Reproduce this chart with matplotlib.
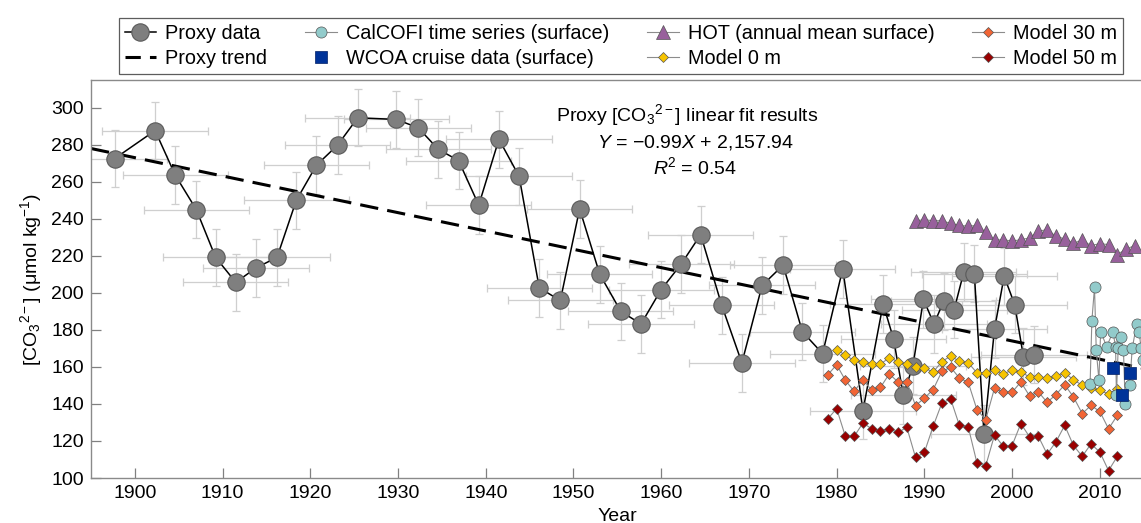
import matplotlib
matplotlib.use('Agg')
import matplotlib.pyplot as plt
from matplotlib.lines import Line2D

plt.rcParams['font.family'] = ['Liberation Sans', 'DejaVu Sans']
plt.rcParams['mathtext.fontset'] = 'custom'
plt.rcParams['mathtext.rm'] = 'Liberation Sans'
plt.rcParams['mathtext.it'] = 'Liberation Sans:italic'
plt.rcParams['font.size'] = 14

# Proxy reconstruction
proxy_year = [1897.7, 1902.3, 1904.6, 1907.0, 1909.2, 1911.5, 1913.8, 1916.2, 1918.4, 1920.7,
              1923.1, 1925.4, 1929.8, 1932.3, 1934.6, 1936.9, 1939.2, 1941.5, 1943.8, 1946.1,
              1948.5, 1950.7, 1953.0, 1955.4, 1957.7, 1960.0, 1962.3, 1964.5, 1966.9, 1969.2,
              1971.5, 1973.9, 1976.1, 1978.4, 1980.7, 1983.0, 1985.3, 1986.5, 1987.6, 1988.7,
              1989.9, 1991.1, 1992.2, 1993.4, 1994.5, 1995.7, 1996.8, 1998.0, 1999.1, 2000.3,
              2001.3, 2002.5]
proxy_val = [272.6, 287.7, 263.6, 245.0, 219.2, 205.7, 213.5, 219.2, 250.0, 269.0,
             279.8, 294.6, 293.7, 289.2, 277.5, 271.5, 247.4, 283.0, 263.0, 202.7,
             195.9, 245.4, 210.0, 190.0, 183.2, 201.8, 215.7, 231.5, 193.3, 162.2,
             204.0, 215.0, 179.0, 167.2, 213.0, 136.4, 194.0, 175.0, 144.6, 160.7,
             196.5, 183.2, 195.5, 191.0, 211.3, 210.4, 123.8, 180.5, 209.0, 193.7,
             165.5, 166.6]
proxy_xerr = 6.0
proxy_yerr = 15.5

# Trend line end points
trend_year = [1895, 2015]
trend_val = [278.0, 159.2]

# HOT annual mean surface
hot_year = list(range(1989, 2015))
hot_val = [239.0, 239.5, 239.0, 239.0, 237.5, 236.5, 236.0, 236.5, 232.8, 228.4,
           228.8, 227.9, 228.8, 229.7, 233.3, 234.2, 230.6, 229.2, 227.0, 228.4,
           225.6, 226.6, 226.1, 220.7, 223.7, 225.6]

# CalCOFI surface
cal_year = [2008.9, 2009.1, 2009.4, 2009.6, 2009.9, 2010.1, 2010.8, 2011.5, 2011.8, 2011.9,
            2012.1, 2012.4, 2012.7, 2012.9, 2013.4, 2013.7, 2014.2, 2014.5, 2014.7, 2014.9]
cal_val = [151, 185, 203, 169, 153, 179, 171, 179, 171, 145,
           170, 176, 169, 140, 150, 170, 183, 179, 170, 164]

# WCOA cruises
wcoa_year = [2011.5, 2012.5, 2013.5]
wcoa_val = [159.5, 145.0, 157.0]

# Model output
model0_year = list(range(1980, 2013))
model0_val = [169.4, 166.3, 163.5, 162.8, 161.6, 161.5, 165.0, 162.9, 161.4, 160.2,
              159.5, 157.2, 162.9, 165.9, 163.0, 162.3, 156.8, 156.8, 158.1, 156.4,
              158.1, 157.4, 154.5, 154.5, 154.0, 155.2, 156.8, 153.1, 150.1, 148.5,
              147.3, 145.4, 148.1]
model_year = list(range(1979, 2013))
model30_val = [155.8, 161.2, 152.8, 146.8, 153.1, 147.4, 149.0, 156.2, 151.9, 152.0,
               139.1, 143.2, 147.7, 157.6, 159.8, 154.0, 151.7, 136.9, 131.5, 148.6,
               146.3, 146.3, 151.9, 144.3, 146.5, 140.9, 145.0, 150.4, 143.8, 134.8,
               139.2, 136.0, 126.6, 133.8]
model50_val = [132.0, 137.5, 122.5, 122.5, 129.7, 126.6, 125.6, 126.6, 124.6, 127.4,
               111.1, 113.8, 127.9, 140.5, 142.7, 128.4, 127.7, 108.1, 106.6, 123.2,
               117.1, 117.5, 129.4, 122.2, 122.5, 112.9, 119.5, 128.4, 117.6, 111.7,
               118.4, 114.1, 104.0, 111.7]

c_proxy = '#7f7f7f'
c_cal = '#92cbcb'
c_hot = '#98609c'
c_wcoa = '#003399'
c_m0 = '#f7c400'
c_m30 = '#f26535'
c_m50 = '#9a0000'
c_thin = '#8c8c8c'

fig = plt.figure(figsize=(11.41, 5.23), dpi=100)
ax = fig.add_axes([0.0798, 0.086, 0.9225, 0.761])

# error bars
ax.errorbar(proxy_year, proxy_val, xerr=proxy_xerr, yerr=proxy_yerr, fmt='none',
            ecolor='#cfcfcf', elinewidth=0.9, capsize=3, capthick=0.9, zorder=1)

ax.plot(trend_year, trend_val, color='black', lw=2.2, dashes=(6, 3), zorder=2)
ax.plot(proxy_year, proxy_val, color='black', lw=1.1, marker='o', ms=12.5,
        mfc=c_proxy, mec='#5a5a5a', mew=0.8, zorder=3)

kw = dict(color=c_thin, lw=0.8, mec='#555555', mew=0.5, zorder=4)
ax.plot(model0_year, model0_val, marker='D', ms=5.5, mfc=c_m0, **kw)
ax.plot(model_year, model30_val, marker='D', ms=5.5, mfc=c_m30, **kw)
ax.plot(model_year, model50_val, marker='D', ms=5.5, mfc=c_m50, **kw)
ax.plot(hot_year, hot_val, marker='^', ms=10, mfc=c_hot, **kw)
ax.plot(cal_year, cal_val, marker='o', ms=8, mfc=c_cal, **kw)
ax.plot(wcoa_year, wcoa_val, ls='none', marker='s', ms=9, mfc=c_wcoa, mec='#001f66',
        mew=0.5, zorder=5)

ax.set_xlim(1895, 2015)
ax.set_ylim(100, 315)
ax.set_xticks(range(1900, 2011, 10))
ax.set_yticks(range(100, 301, 20))
ax.tick_params(direction='in', length=7, width=0.9, color='#808080', labelsize=14, pad=5)
for s in ax.spines.values():
    s.set_color('#8a8a8a')
    s.set_linewidth(1.0)

ax.set_xlabel('Year', labelpad=4)
ax.set_ylabel('[CO$_3$$^{2-}$] (\u03bcmol kg$^{-1}$)', labelpad=5)

ax.text(0.566, 0.912, 'Proxy [CO$_3$$^{2-}$] linear fit results', transform=ax.transAxes,
        ha='center', va='center')
ax.text(0.574, 0.842, '$Y$ = \u22120.99$X$ + 2,157.94', transform=ax.transAxes,
        ha='center', va='center')
ax.text(0.574, 0.781, '$R$$^{2}$ = 0.54', transform=ax.transAxes,
        ha='center', va='center')

handles = [
    Line2D([], [], color='black', lw=1.1, marker='o', ms=12.5, mfc=c_proxy, mec='#5a5a5a', mew=0.8),
    Line2D([], [], color='black', lw=2.2, dashes=(5, 3)),
    Line2D([], [], color=c_thin, lw=0.8, marker='o', ms=8, mfc=c_cal, mec='#555555', mew=0.5),
    Line2D([], [], ls='none', marker='s', ms=9, mfc=c_wcoa, mec='#001f66', mew=0.5),
    Line2D([], [], color=c_thin, lw=0.8, marker='^', ms=10, mfc=c_hot, mec='#555555', mew=0.5),
    Line2D([], [], color=c_thin, lw=0.8, marker='D', ms=5.5, mfc=c_m0, mec='#555555', mew=0.5),
    Line2D([], [], color=c_thin, lw=0.8, marker='D', ms=5.5, mfc=c_m30, mec='#555555', mew=0.5),
    Line2D([], [], color=c_thin, lw=0.8, marker='D', ms=5.5, mfc=c_m50, mec='#555555', mew=0.5),
]
labels = ['Proxy data', 'Proxy trend', 'CalCOFI time series (surface)',
          'WCOA cruise data (surface)', 'HOT (annual mean surface)', 'Model 0 m',
          'Model 30 m', 'Model 50 m']
leg = fig.legend(handles, labels, ncol=4, loc='upper center', bbox_to_anchor=(0.544, 0.984),
                 frameon=True, fancybox=False, edgecolor='#333333', handlelength=1.6,
                 columnspacing=1.9, labelspacing=0.3, borderpad=0.3, handletextpad=0.45,
                 fontsize=14.3)
leg.get_frame().set_linewidth(0.9)

fig.savefig('out.png', dpi=100)
